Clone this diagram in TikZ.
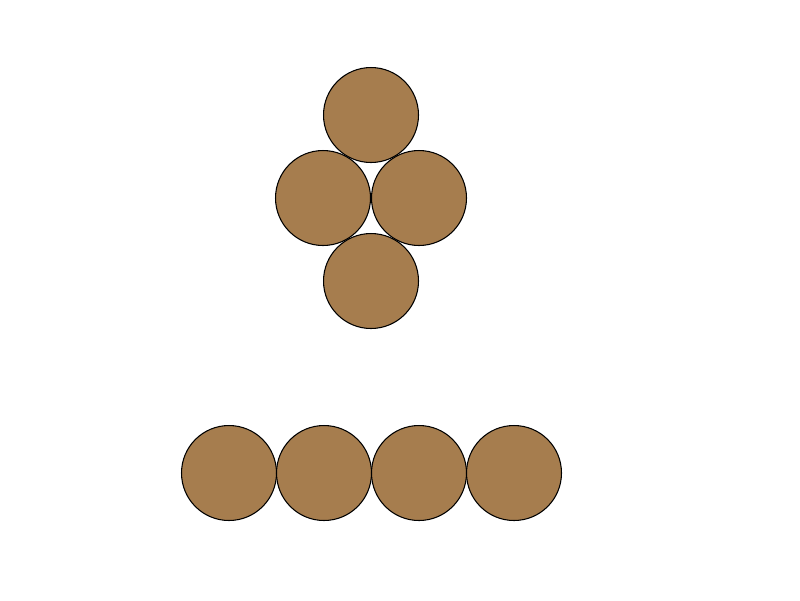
\documentclass[tikz,border=0pt]{standalone}
\begin{document}
\begin{tikzpicture}[x=0.02cm, y=-0.02cm,
    bola/.style={circle, draw=black, fill={rgb,255:red,166;green,125;blue,78}, line width=0.6pt, minimum size=1.9cm, inner sep=0pt}]
    \useasboundingbox (0,0) rectangle (800,600);

    % Grupo en rombo
    \node[bola] (arriba) at (371,115) {};
    \node[bola] (izq) at (323,198) {};
    \node[bola] (der) at (419,198) {};
    \node[bola] (abajo) at (371,281) {};

    % Fila inferior
    \foreach \x [count=\i] in {229,324,419,514}
        \node[bola] (fila\i) at (\x,473) {};
\end{tikzpicture}
\end{document}
